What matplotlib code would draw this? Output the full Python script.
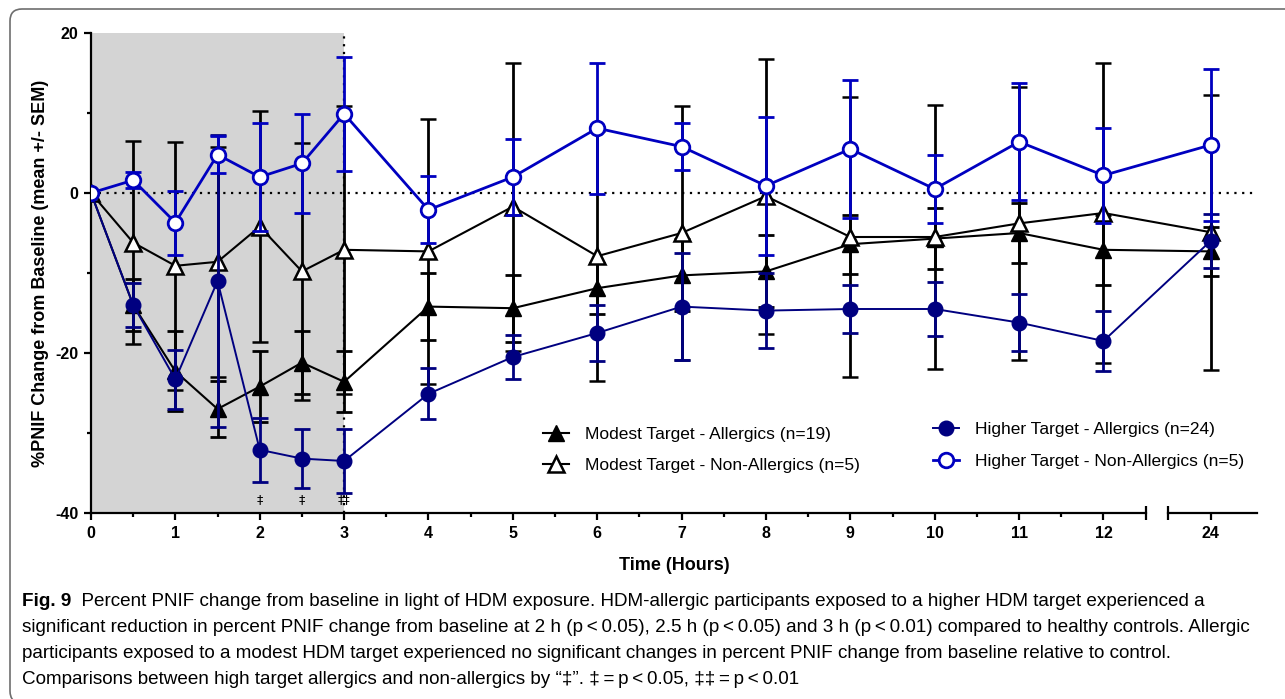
import numpy as np
import matplotlib
matplotlib.use('Agg')
import matplotlib.pyplot as plt
from matplotlib.patches import FancyBboxPatch
from matplotlib.transforms import IdentityTransform

plt.rcParams['font.family'] = ['Liberation Sans', 'DejaVu Sans']
plt.rcParams['axes.unicode_minus'] = False

# time points (hours) and group means / SEM
times = [0, 0.5, 1, 1.5, 2, 2.5, 3, 4, 5, 6, 7, 8, 9, 10, 11, 12, 24]

modest_allergic = [0, -14.0, -22.3, -27.0, -24.2, -21.2, -23.6, -14.2, -14.4,
                   -11.9, -10.3, -9.8, -6.4, -5.7, -5.0, -7.1, -7.3]
modest_allergic_sem = [0, 3.3, 5.0, 3.5, 4.4, 3.9, 3.8, 4.2, 4.2,
                       3.2, 4.5, 4.5, 3.7, 3.8, 3.7, 4.4, 3.1]
modest_nonallergic = [0, -6.2, -9.1, -8.6, -4.2, -9.8, -7.1, -7.3, -1.7,
                      -7.9, -5.0, -0.4, -5.5, -5.5, -3.8, -2.5, -4.9]
modest_nonallergic_sem = [0, 12.7, 15.5, 14.4, 14.4, 16.1, 18.0, 16.6, 18.0,
                          15.6, 15.9, 17.2, 17.5, 16.5, 17.1, 18.7, 17.2]
higher_allergic = [0, -14.0, -23.3, -11.0, -32.1, -33.2, -33.5, -25.1, -20.5,
                   -17.5, -14.2, -14.7, -14.5, -14.5, -16.2, -18.5, -6.0]
higher_allergic_sem = [0, 2.7, 3.7, 18.2, 4.0, 3.7, 4.0, 3.2, 2.8,
                       3.5, 6.7, 4.7, 3.0, 3.4, 3.6, 3.8, 3.4]
higher_nonallergic = [0, 1.6, -3.7, 4.8, 2.0, 3.7, 9.9, -2.1, 2.0,
                      8.1, 5.8, 0.9, 5.5, 0.5, 6.4, 2.2, 6.0]
higher_nonallergic_sem = [0, 1.0, 4.0, 2.3, 6.7, 6.2, 7.1, 4.2, 4.7,
                          8.2, 2.9, 8.6, 8.6, 4.3, 7.3, 5.9, 9.5]

labels = ['Modest Target - Allergics (n=19)', 'Modest Target - Non-Allergics (n=5)',
          'Higher Target - Allergics (n=24)', 'Higher Target - Non-Allergics (n=5)']

sig_times = [2, 2.5, 3]
sig_labels = ['‡', '‡', '‡‡']

x_ticks = [0, 1, 2, 3, 4, 5, 6, 7, 8, 9, 10, 11, 12, 24]
x_minor = [0.5, 1.5, 2.5, 3.5, 4.5, 5.5, 6.5, 7.5, 8.5, 9.5, 10.5, 11.5]

caption_lines = [
    'Percent PNIF change from baseline in light of HDM exposure. HDM-allergic participants exposed to a higher HDM target experienced a',
    'significant reduction in percent PNIF change from baseline at 2 h (p\u2009<\u20090.05), 2.5 h (p\u2009<\u20090.05) and 3 h (p\u2009<\u20090.01) compared to healthy controls. Allergic',
    'participants exposed to a modest HDM target experienced no significant changes in percent PNIF change from baseline relative to control.',
    'Comparisons between high target allergics and non-allergics by \u201c\u2021\u201d. \u2021\u2009=\u2009p\u2009<\u20090.05, \u2021\u2021\u2009=\u2009p\u2009<\u20090.01',
]

# broken x axis: 12.5 .. 23.5 squeezed into a small gap
BREAK_LO, BREAK_HI, GAP = 12.5, 23.5, 0.27


def forward(x):
    x = np.asarray(x, dtype=float)
    return np.where(x <= BREAK_LO, x,
                    np.where(x >= BREAK_HI, x - BREAK_HI + BREAK_LO + GAP,
                             BREAK_LO + (x - BREAK_LO) * GAP / (BREAK_HI - BREAK_LO)))


def inverse(u):
    u = np.asarray(u, dtype=float)
    return np.where(u <= BREAK_LO, u,
                    np.where(u >= BREAK_LO + GAP, u - BREAK_LO - GAP + BREAK_HI,
                             BREAK_LO + (u - BREAK_LO) * (BREAK_HI - BREAK_LO) / GAP))


W, H = 1285, 699
fig = plt.figure(figsize=(W / 100, H / 100), dpi=100)
ax = fig.add_axes([91 / W, 1 - 513 / H, (1257 - 91) / W, 480 / H])
ax.set_xscale('function', functions=(forward, inverse))
ax.set_xlim(0, 24.55)
ax.set_ylim(-40, 20)

ax.axvspan(0, 3, color='#d4d4d4', zorder=0, lw=0)
ax.axvline(3, color='black', ls=(0, (1, 2.5)), lw=1.6, zorder=1)
ax.axhline(0, color='black', ls=(0, (1, 2.5)), lw=1.6, zorder=1)

err_kw = dict(capsize=6, capthick=2, elinewidth=2, errorevery=(1, 1))
c1 = ax.errorbar(times, modest_allergic, yerr=modest_allergic_sem, color='black',
                 lw=1.5, marker='^', ms=11, mfc='black', mec='black', zorder=3, **err_kw)
c2 = ax.errorbar(times, modest_nonallergic, yerr=modest_nonallergic_sem, color='black',
                 lw=1.5, marker='^', ms=11, mfc='white', mec='black', mew=1.8,
                 zorder=3, **err_kw)
c3 = ax.errorbar(times, higher_allergic, yerr=higher_allergic_sem, color='#000080',
                 lw=1.4, marker='o', ms=10.5, mfc='#000080', mec='#000080',
                 zorder=4, **err_kw)
c4 = ax.errorbar(times, higher_nonallergic, yerr=higher_nonallergic_sem, color='#0000c0',
                 lw=2, marker='o', ms=10.5, mfc='white', mec='#0000c0', mew=2,
                 zorder=5, **err_kw)

for t, s in zip(sig_times, sig_labels):
    ax.text(t, -38.3, s, ha='center', va='center', fontsize=9,
            family=['DejaVu Sans'])

# axes styling
for side in ['top', 'right', 'bottom']:
    ax.spines[side].set_visible(False)
ax.spines['left'].set_linewidth(1.6)
xt = ax.get_xaxis_transform()
ax.plot([0, BREAK_LO], [0, 0], transform=xt, color='black', lw=1.6, clip_on=False)
ax.plot([BREAK_HI, 24.55], [0, 0], transform=xt, color='black', lw=1.6, clip_on=False)
ax.plot([BREAK_LO, BREAK_HI], [0, 0], transform=xt, ls='none', marker='|',
        ms=10, mew=1.6, color='black', clip_on=False)

ax.set_xticks(x_ticks)
ax.set_xticks(x_minor, minor=True)
ax.set_xticklabels([str(t) for t in x_ticks])
ax.set_yticks([-40, -20, 0, 20])
ax.set_yticks([-30, -10, 10], minor=True)
ax.tick_params(which='major', length=5, width=1.6, labelsize=11.5, pad=4)
ax.tick_params(which='minor', length=3, width=1.6)
for lab in ax.get_xticklabels() + ax.get_yticklabels():
    lab.set_fontweight('bold')

ax.set_xlabel('Time (Hours)', fontsize=13, fontweight='bold')
ax.xaxis.set_label_coords(0.5, -0.092)
ax.set_ylabel('%PNIF Change from Baseline (mean +/- SEM)', fontsize=13, fontweight='bold')
ax.yaxis.set_label_coords(-0.036, 0.5)

leg_kw = dict(loc='upper left', frameon=False, fontsize=12.5, handlelength=1.5,
              handletextpad=0.9, labelspacing=0.95, borderpad=0, borderaxespad=0)
leg1 = ax.legend([c1[0], c2[0]], labels[:2], bbox_to_anchor=(0.3877, 0.18), **leg_kw)
ax.add_artist(leg1)
ax.legend([c3[0], c4[0]], labels[2:], bbox_to_anchor=(0.722, 0.19), **leg_kw)

# caption
cap_font = ['Liberation Sans', 'DejaVu Sans']
cap_size = 13.6
fig_lab = fig.text(22 / W, 1 - 601 / H, 'Fig. 9', fontsize=cap_size, fontweight='bold',
                   family=cap_font, va='center')
ax.annotate('  ' + caption_lines[0], xy=(1, 0.5), xycoords=fig_lab, va='center',
            fontsize=cap_size, family=cap_font, annotation_clip=False)
for i, line in enumerate(caption_lines[1:]):
    fig.text(22 / W, 1 - (627 + 26 * i) / H, line, fontsize=cap_size, family=cap_font,
             va='center')

# rounded frame around the figure
fig.add_artist(FancyBboxPatch((10, -4), 1400, H - 9 + 4,
                              boxstyle='round,pad=0,rounding_size=12',
                              transform=IdentityTransform(), fill=False,
                              ec='#6e6e6e', lw=1.2))

fig.savefig('out.png', dpi=100)
